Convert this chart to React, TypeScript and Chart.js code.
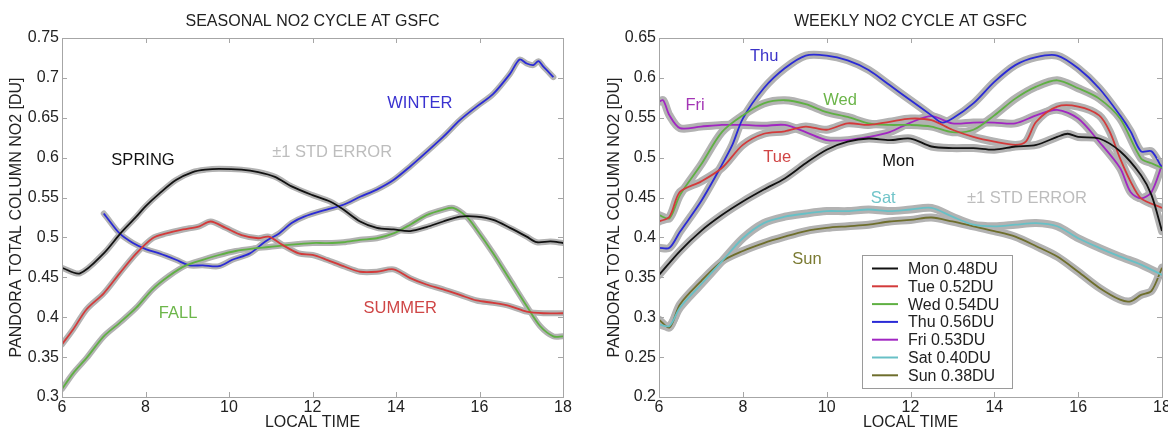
import React, { useEffect, useRef } from 'react';
import { Chart, registerables } from 'chart.js';

Chart.register(...registerables);
Chart.defaults.font.family = '"Liberation Sans", Arial, sans-serif';
Chart.defaults.color = '#222';

type Pt = [number, number];

// ---- seasonal panel (hour, DU) ----
const spring: Pt[] = [[6,0.462],[6.43,0.455],[7,0.48],[7.4,0.505],[7.78,0.526],[8,0.539],[8.33,0.555],[8.73,0.572],[9.13,0.582],[9.44,0.585],[9.76,0.586],[10.3,0.585],[10.7,0.582],[11.1,0.576],[11.5,0.564],[12,0.553],[12.42,0.545],[12.74,0.535],[13.14,0.52],[13.54,0.512],[13.94,0.51],[14.34,0.508],[14.73,0.513],[15.13,0.52],[15.53,0.526],[15.93,0.526],[16.33,0.522],[16.73,0.512],[17.13,0.501],[17.37,0.494],[17.7,0.495],[18,0.493]];
const summer: Pt[] = [[6,0.366],[6.27,0.385],[6.59,0.41],[7,0.43],[7.38,0.455],[7.78,0.48],[8.17,0.499],[8.5,0.505],[8.9,0.51],[9.29,0.514],[9.56,0.52],[9.92,0.512],[10.3,0.503],[10.7,0.499],[10.95,0.501],[11.27,0.491],[11.67,0.48],[12,0.478],[12.34,0.472],[12.74,0.464],[13.14,0.457],[13.54,0.457],[13.94,0.46],[14.34,0.449],[14.73,0.441],[15.13,0.435],[15.53,0.428],[15.93,0.421],[16.33,0.418],[16.73,0.414],[17.13,0.407],[17.53,0.405],[18,0.405]];
const fall: Pt[] = [[6,0.31],[6.27,0.33],[6.59,0.349],[7,0.376],[7.38,0.393],[7.78,0.412],[8.17,0.435],[8.57,0.452],[8.97,0.465],[9.37,0.472],[9.76,0.478],[10.16,0.483],[10.56,0.486],[10.95,0.488],[11.5,0.491],[12,0.493],[12.34,0.493],[12.74,0.494],[13.14,0.497],[13.54,0.499],[13.94,0.505],[14.34,0.516],[14.73,0.528],[15.13,0.535],[15.37,0.537],[15.69,0.526],[15.93,0.51],[16.33,0.48],[16.73,0.447],[17.13,0.414],[17.45,0.389],[17.77,0.376],[18,0.376]];
const winter: Pt[] = [[7,0.53],[7.06,0.526],[7.38,0.505],[7.7,0.493],[8.02,0.485],[8.33,0.48],[8.73,0.472],[9.05,0.465],[9.37,0.465],[9.76,0.464],[10.08,0.472],[10.5,0.48],[10.87,0.495],[11.2,0.505],[11.5,0.518],[11.8,0.526],[12.34,0.535],[12.74,0.541],[13.14,0.551],[13.54,0.56],[13.94,0.572],[14.34,0.589],[14.73,0.607],[15.13,0.626],[15.53,0.647],[15.93,0.664],[16.33,0.68],[16.73,0.705],[16.96,0.723],[17.13,0.718],[17.29,0.716],[17.41,0.721],[17.53,0.714],[17.77,0.701]];

// ---- weekly panel (hour, DU) ----
const mon: Pt[] = [[6,0.353],[6.5,0.383],[7,0.408],[7.5,0.428],[8,0.445],[8.5,0.46],[9,0.474],[9.5,0.493],[10,0.51],[10.5,0.52],[11,0.524],[11.5,0.522],[12,0.524],[12.5,0.514],[13,0.512],[13.5,0.512],[14,0.51],[14.5,0.514],[15,0.516],[15.5,0.526],[15.75,0.53],[16,0.526],[16.5,0.524],[17,0.508],[17.5,0.478],[17.75,0.453],[18,0.408]];
const tue: Pt[] = [[6,0.42],[6.25,0.426],[6.5,0.457],[7,0.47],[7.5,0.487],[8,0.516],[8.5,0.53],[9,0.533],[9.5,0.539],[10,0.535],[10.5,0.543],[11,0.541],[11.5,0.545],[12,0.549],[12.5,0.547],[13,0.535],[13.5,0.526],[14,0.52],[14.5,0.516],[14.75,0.52],[15,0.545],[15.5,0.564],[16,0.564],[16.5,0.553],[16.75,0.533],[17,0.499],[17.25,0.47],[17.5,0.449],[18,0.437]];
const wed: Pt[] = [[6,0.428],[6.25,0.424],[6.5,0.453],[7,0.491],[7.5,0.532],[8,0.553],[8.5,0.568],[9,0.572],[9.5,0.567],[10,0.557],[10.5,0.551],[11,0.543],[11.5,0.541],[12,0.541],[12.5,0.539],[13,0.532],[13.5,0.535],[14,0.553],[14.5,0.574],[15,0.589],[15.5,0.597],[16,0.587],[16.5,0.574],[17,0.549],[17.5,0.499],[17.75,0.493],[18,0.487]];
const thu: Pt[] = [[6,0.387],[6.25,0.387],[6.5,0.407],[7,0.445],[7.5,0.491],[7.75,0.516],[8,0.549],[8.5,0.587],[9,0.612],[9.5,0.628],[10,0.628],[10.5,0.622],[11,0.61],[11.5,0.591],[12,0.572],[12.5,0.553],[12.75,0.544],[13,0.549],[13.5,0.568],[14,0.595],[14.5,0.616],[15,0.626],[15.5,0.628],[16,0.612],[16.5,0.587],[17,0.553],[17.25,0.533],[17.5,0.508],[17.75,0.508],[18,0.487]];
const fri: Pt[] = [[6,0.57],[6.1,0.572],[6.25,0.553],[6.5,0.537],[7,0.539],[7.5,0.541],[8,0.541],[8.5,0.54],[9,0.541],[9.5,0.532],[10,0.522],[10.5,0.522],[11,0.526],[11.5,0.532],[12,0.544],[12.5,0.552],[13,0.543],[13.5,0.544],[14,0.544],[14.5,0.543],[15,0.553],[15.5,0.56],[16,0.549],[16.5,0.52],[17,0.487],[17.25,0.457],[17.5,0.449],[17.75,0.457],[18,0.491]];
const sat: Pt[] = [[6,0.291],[6.25,0.289],[6.5,0.312],[7,0.341],[7.5,0.37],[8,0.399],[8.5,0.418],[9,0.426],[9.5,0.43],[10,0.433],[10.5,0.433],[11,0.435],[11.5,0.433],[12,0.435],[12.5,0.437],[13,0.426],[13.5,0.416],[14,0.414],[14.5,0.416],[15,0.418],[15.5,0.414],[16,0.399],[16.5,0.387],[17,0.376],[17.5,0.366],[18,0.353]];
const sun: Pt[] = [[6,0.297],[6.25,0.287],[6.5,0.316],[7,0.345],[7.5,0.37],[8,0.383],[8.5,0.393],[9,0.401],[9.5,0.408],[10,0.412],[10.5,0.414],[11,0.416],[11.5,0.42],[12,0.422],[12.5,0.425],[13,0.42],[13.5,0.414],[14,0.408],[14.5,0.401],[15,0.389],[15.5,0.376],[16,0.357],[16.5,0.337],[17,0.322],[17.25,0.32],[17.5,0.328],[17.75,0.333],[18,0.362]];

const weekDays = ['Mon', 'Tue', 'Wed', 'Thu', 'Fri', 'Sat', 'Sun'];
const weekMeans = [0.48, 0.52, 0.54, 0.56, 0.53, 0.40, 0.38];

const C = {
  black: '#111111', red: '#d33a3a', green: '#5fb043', blue: '#2a2ad6',
  purple: '#a126c2', cyan: '#68c0c6', olive: '#6e6e2c', band: '#b2b2b2', note: '#bdbdbd',
};

interface Series { label: string; points: Pt[]; color: string; }
interface Note { text: string; color: string; at: Pt; }
interface Panel {
  title: string; yMin: number; yMax: number; yWidth: number; yTitlePad: number;
  rightPad: number; band: number; series: Series[]; notes: Note[]; legend: boolean;
}

const seasonal: Panel = {
  title: 'SEASONAL NO2 CYCLE AT GSFC', yMin: 0.3, yMax: 0.75, yWidth: 62, yTitlePad: 7, rightPad: 21, band: 6,
  series: [
    { label: 'SPRING', points: spring, color: C.black },
    { label: 'SUMMER', points: summer, color: C.red },
    { label: 'FALL', points: fall, color: C.green },
    { label: 'WINTER', points: winter, color: C.blue },
  ],
  notes: [
    { text: 'SPRING', color: C.black, at: [7.94, 0.597] },
    { text: '±1 STD ERROR', color: C.note, at: [12.47, 0.606] },
    { text: 'WINTER', color: '#3a32d0', at: [14.57, 0.668] },
    { text: 'FALL', color: '#6cb64a', at: [8.78, 0.405] },
    { text: 'SUMMER', color: '#cf4646', at: [14.1, 0.411] },
  ],
  legend: false,
};

const weekColors = [C.black, C.red, C.green, C.blue, C.purple, C.cyan, C.olive];
const weekly: Panel = {
  title: 'WEEKLY NO2 CYCLE AT GSFC', yMin: 0.2, yMax: 0.65, yWidth: 75, yTitlePad: 21, rightPad: 6, band: 8,
  series: [mon, tue, wed, thu, fri, sat, sun].map((points, i) => ({
    label: `${weekDays[i]} ${weekMeans[i].toFixed(2)}DU`, points, color: weekColors[i],
  })),
  notes: [
    { text: 'Thu', color: '#3a32c8', at: [8.51, 0.627] },
    { text: 'Fri', color: '#a335b5', at: [6.86, 0.566] },
    { text: 'Wed', color: '#6cb54a', at: [10.32, 0.572] },
    { text: 'Tue', color: '#d04545', at: [8.82, 0.5] },
    { text: 'Mon', color: '#111', at: [11.71, 0.495] },
    { text: 'Sat', color: '#70c4c9', at: [11.35, 0.449] },
    { text: '±1 STD ERROR', color: C.note, at: [14.78, 0.449] },
    { text: 'Sun', color: '#7a7a32', at: [9.53, 0.372] },
  ],
  legend: true,
};

const framePlugin = {
  id: 'frame',
  afterDatasetsDraw(chart: any, _args: any, opts: any) {
    const { ctx, chartArea: a, scales } = chart;
    const xs = scales.x;
    const ys = scales.y;
    ctx.save();
    // axes box with inward ticks
    ctx.strokeStyle = '#a6a6a6';
    ctx.lineWidth = 1;
    ctx.strokeRect(Math.round(a.left) + 0.5, Math.round(a.top) + 0.5, Math.round(a.right - a.left), Math.round(a.bottom - a.top));
    ctx.beginPath();
    xs.ticks.forEach((t: any) => {
      const px = Math.round(xs.getPixelForValue(t.value)) + 0.5;
      ctx.moveTo(px, a.bottom); ctx.lineTo(px, a.bottom - 5);
      ctx.moveTo(px, a.top); ctx.lineTo(px, a.top + 5);
    });
    ys.ticks.forEach((t: any) => {
      const py = Math.round(ys.getPixelForValue(t.value)) + 0.5;
      ctx.moveTo(a.left, py); ctx.lineTo(a.left + 5, py);
      ctx.moveTo(a.right, py); ctx.lineTo(a.right - 5, py);
    });
    ctx.stroke();

    // title
    ctx.fillStyle = '#222';
    ctx.font = '16px "Liberation Sans", Arial, sans-serif';
    ctx.textAlign = 'center';
    ctx.textBaseline = 'middle';
    ctx.fillText(opts.title, (a.left + a.right) / 2, 22);

    // in-plot notes
    ctx.font = '16.5px "Liberation Sans", Arial, sans-serif';
    (opts.notes || []).forEach((n: Note) => {
      ctx.fillStyle = n.color;
      ctx.fillText(n.text, xs.getPixelForValue(n.at[0]), ys.getPixelForValue(n.at[1]));
    });

    // legend box
    if (opts.legend) {
      const lines = chart.data.datasets.filter((d: any) => !d.isBand);
      const bx = a.left + 203;
      const by = a.top + 217;
      const bw = 150;
      const bh = 133;
      ctx.fillStyle = '#fff';
      ctx.fillRect(bx, by, bw, bh);
      ctx.strokeStyle = '#9a9a9a';
      ctx.strokeRect(bx + 0.5, by + 0.5, bw, bh);
      ctx.font = '16px "Liberation Sans", Arial, sans-serif';
      ctx.textAlign = 'left';
      lines.forEach((d: any, i: number) => {
        const ry = by + 13.5 + i * 17.8;
        ctx.strokeStyle = d.borderColor;
        ctx.lineWidth = 2;
        ctx.beginPath();
        ctx.moveTo(bx + 10, ry); ctx.lineTo(bx + 36, ry);
        ctx.stroke();
        ctx.fillStyle = '#222';
        ctx.fillText(d.label, bx + 46, ry + 1);
      });
    }
    ctx.restore();
  },
};

function CyclePanel({ panel }: { panel: Panel }) {
  const canvasRef = useRef<HTMLCanvasElement>(null);

  useEffect(() => {
    if (!canvasRef.current) return;
    const datasets: any[] = [];
    panel.series.forEach((s) => {
      const data = s.points.map(([x, y]) => ({ x, y }));
      datasets.push({
        label: s.label, data, borderColor: s.color, borderWidth: 1.8,
        pointRadius: 0, tension: 0.3, order: 0,
      });
      datasets.push({
        label: s.label + ' band', data, borderColor: C.band, borderWidth: panel.band,
        pointRadius: 0, tension: 0.3, order: 1, isBand: true, borderCapStyle: 'round',
      });
    });

    const chart = new Chart(canvasRef.current, {
      type: 'line',
      data: { datasets },
      plugins: [framePlugin],
      options: {
        animation: false,
        responsive: true,
        maintainAspectRatio: false,
        layout: { padding: { top: 38, right: panel.rightPad, left: 0, bottom: 0 } },
        scales: {
          x: {
            type: 'linear', min: 6, max: 18,
            grid: { display: false, drawTicks: false },
            border: { display: false },
            ticks: { stepSize: 2, autoSkip: false, padding: 1, maxRotation: 0, font: { size: 16 }, color: '#222' },
            title: { display: true, text: 'LOCAL TIME', font: { size: 16 }, color: '#222', padding: { top: 0, bottom: 0 } },
            afterFit: (s: any) => { s.height = 35; s.paddingLeft = 0; s.paddingRight = 0; },
          },
          y: {
            min: panel.yMin, max: panel.yMax,
            grid: { display: false, drawTicks: false },
            border: { display: false },
            ticks: {
              stepSize: 0.05, autoSkip: false, padding: 3, font: { size: 16 }, color: '#222',
              callback: (v: any) => String(Number(Number(v).toFixed(2))),
            },
            title: {
              display: true, text: 'PANDORA TOTAL COLUMN NO2 [DU]', font: { size: 16 }, color: '#222',
              padding: { top: panel.yTitlePad, bottom: 0 },
            },
            afterFit: (s: any) => { s.width = panel.yWidth; s.paddingTop = 0; s.paddingBottom = 0; },
          },
        },
        plugins: {
          legend: { display: false },
          tooltip: { enabled: false },
          frame: { title: panel.title, notes: panel.notes, legend: panel.legend },
        } as any,
      },
    });

    return () => chart.destroy();
  }, [panel]);

  return <canvas ref={canvasRef} />;
}

export default function App() {
  return (
    <div style={{ position: 'fixed', left: 0, top: 0, width: 1168, height: 432, background: '#fff' }}>
      <div style={{ position: 'absolute', left: 0, top: 0, width: 584, height: 432 }}>
        <CyclePanel panel={seasonal} />
      </div>
      <div style={{ position: 'absolute', left: 584, top: 0, width: 584, height: 432 }}>
        <CyclePanel panel={weekly} />
      </div>
    </div>
  );
}
